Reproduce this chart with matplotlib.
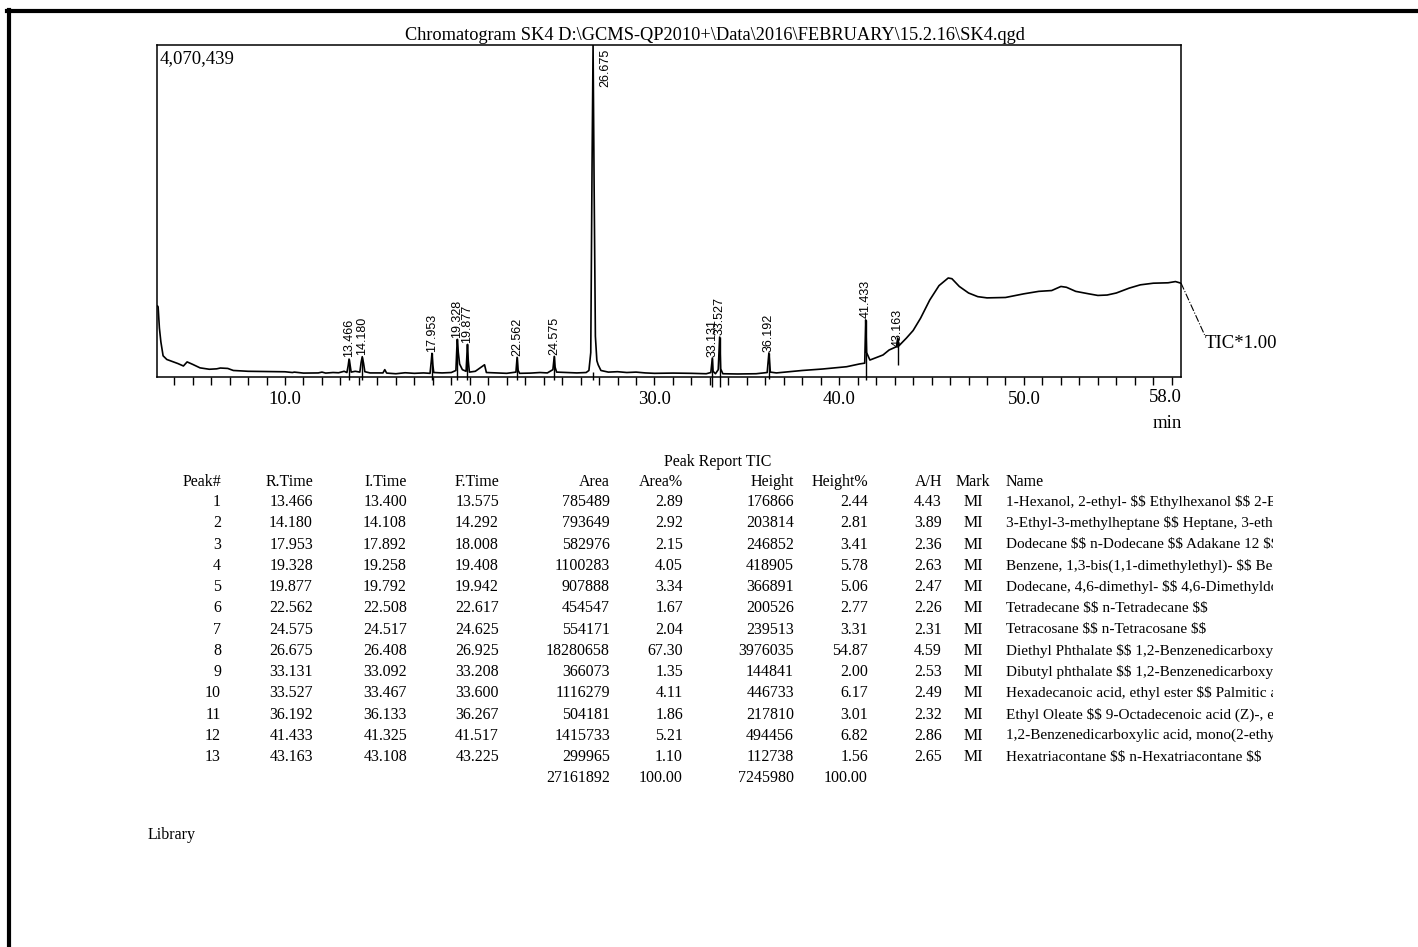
import matplotlib
matplotlib.use('Agg')
import matplotlib.pyplot as plt
from matplotlib.lines import Line2D
from matplotlib.transforms import Bbox, TransformedBbox

W, H = 1418, 947

# chromatogram trace (time in min, TIC counts)
tic_time = [3.10, 3.13, 3.20, 3.28, 3.40, 3.60, 3.90, 4.20, 4.50, 4.70, 4.85, 5.00, 5.40, 5.90,
            6.30, 6.50, 6.90, 7.20, 8.00, 9.00, 10.00, 10.40, 10.50, 11.00, 11.80, 12.00, 12.20,
            12.60, 12.90, 13.20, 13.35, 13.42, 13.466, 13.52, 13.58, 13.80, 14.05, 14.12, 14.18,
            14.25, 14.32, 14.60, 15.30, 15.40, 15.50, 16.00, 16.50, 17.00, 17.50, 17.85, 17.92,
            17.953, 18.00, 18.05, 18.50, 19.00, 19.25, 19.30, 19.328, 19.38, 19.45, 19.60, 19.80,
            19.85, 19.877, 19.92, 19.98, 20.30, 20.80, 20.90, 21.50, 22.00, 22.50, 22.562, 22.62,
            22.70, 23.30, 23.80, 24.20, 24.50, 24.575, 24.62, 24.70, 25.20, 25.80, 26.30, 26.45,
            26.55, 26.62, 26.675, 26.73, 26.80, 26.88, 26.95, 27.10, 27.50, 28.00, 28.50, 29.00,
            29.50, 30.00, 31.00, 32.00, 32.80, 33.05, 33.131, 33.17, 33.30, 33.45, 33.527, 33.58,
            33.70, 34.50, 35.50, 36.10, 36.192, 36.27, 36.60, 37.30, 38.00, 39.10, 40.40, 41.10,
            41.38, 41.433, 41.48, 41.66, 42.37, 42.70, 43.10, 43.163, 43.22, 43.64, 44.00, 44.40,
            44.90, 45.40, 45.90, 46.10, 46.50, 47.00, 47.50, 48.00, 49.00, 50.00, 50.80,
            51.50, 52.00, 52.30, 52.80, 53.50, 54.00, 54.50, 55.00, 55.70, 56.30, 57.00, 57.80,
            58.20, 58.50]
tic_int = [870000, 860000, 600000, 430000, 260000, 215000, 190000, 165000, 135000, 185000, 170000,
           155000, 112000, 95000, 100000, 110000, 105000, 80000, 70000, 67000, 64000, 55000, 60000,
           48000, 50000, 60000, 48000, 55000, 52000, 70000, 55000, 140000, 220000, 150000, 60000,
           70000, 60000, 180000, 249000, 170000, 65000, 50000, 50000, 90000, 48000, 40000, 52000,
           45000, 50000, 45000, 200000, 290000, 150000, 55000, 50000, 55000, 80000, 350000, 462000,
           300000, 160000, 90000, 70000, 300000, 400000, 200000, 60000, 70000, 150000, 55000, 50000,
           45000, 60000, 241000, 80000, 45000, 48000, 55000, 50000, 90000, 253000, 120000, 60000,
           55000, 50000, 55000, 80000, 300000, 2600000, 4070439, 2400000, 500000, 200000, 150000,
           80000, 60000, 65000, 55000, 60000, 50000, 45000, 48000, 45000, 40000, 55000, 233000,
           70000, 40000, 90000, 490000, 100000, 40000, 37000, 40000, 55000, 294000, 60000, 50000,
           65000, 80000, 98000, 126000, 160000, 170000, 700000, 300000, 208000, 270000, 331000,
           372000, 478000, 380000, 478000, 570000, 720000,
           944000, 1120000, 1214000, 1205000, 1110000, 1030000, 985000, 970000, 975000, 1020000,
           1050000, 1060000, 1110000, 1100000, 1050000, 1020000, 1000000, 1005000, 1030000,
           1090000, 1130000, 1150000, 1155000, 1170000, 1150000]

peak_rt = [13.466, 14.180, 17.953, 19.328, 19.877, 22.562, 24.575, 26.675,
           33.131, 33.527, 36.192, 41.433, 43.163]
# bottom of each peak label (counts)
label_y = [240000, 270000, 310000, 480000, 420000, 260000, 270000, 3560000,
           250000, 510000, 310000, 720000, 370000]
# peak marker line drawn through each peak
marker_lo = [-40000, -40000, -40000, -40000, -40000, -40000, -40000, -40000,
             -120000, -120000, -20000, -40000, 147000]
marker_hi = [220000, 249000, 290000, 462000, 400000, 241000, 253000, 60000,
             233000, 490000, 294000, 700000, 478000]

# peak report table
peak_no = ['1', '2', '3', '4', '5', '6', '7', '8', '9', '10', '11', '12', '13']
r_time = ['13.466', '14.180', '17.953', '19.328', '19.877', '22.562', '24.575', '26.675',
          '33.131', '33.527', '36.192', '41.433', '43.163']
i_time = ['13.400', '14.108', '17.892', '19.258', '19.792', '22.508', '24.517', '26.408',
          '33.092', '33.467', '36.133', '41.325', '43.108']
f_time = ['13.575', '14.292', '18.008', '19.408', '19.942', '22.617', '24.625', '26.925',
          '33.208', '33.600', '36.267', '41.517', '43.225']
area = ['785489', '793649', '582976', '1100283', '907888', '454547', '554171', '18280658',
        '366073', '1116279', '504181', '1415733', '299965']
area_pct = ['2.89', '2.92', '2.15', '4.05', '3.34', '1.67', '2.04', '67.30',
            '1.35', '4.11', '1.86', '5.21', '1.10']
height = ['176866', '203814', '246852', '418905', '366891', '200526', '239513', '3976035',
          '144841', '446733', '217810', '494456', '112738']
height_pct = ['2.44', '2.81', '3.41', '5.78', '5.06', '2.77', '3.31', '54.87',
              '2.00', '6.17', '3.01', '6.82', '1.56']
a_h = ['4.43', '3.89', '2.36', '2.63', '2.47', '2.26', '2.31', '4.59',
       '2.53', '2.49', '2.32', '2.86', '2.65']
mark = ['MI'] * 13
names = ['1-Hexanol, 2-ethyl- $$ Ethylhexanol $$ 2-Ethylhexanol',
         '3-Ethyl-3-methylheptane $$ Heptane, 3-ethyl-3-methyl-',
         'Dodecane $$ n-Dodecane $$ Adakane 12 $$',
         'Benzene, 1,3-bis(1,1-dimethylethyl)- $$ Benzene',
         'Dodecane, 4,6-dimethyl- $$ 4,6-Dimethyldodecane',
         'Tetradecane $$ n-Tetradecane $$',
         'Tetracosane $$ n-Tetracosane $$',
         'Diethyl Phthalate $$ 1,2-Benzenedicarboxylic acid',
         'Dibutyl phthalate $$ 1,2-Benzenedicarboxylic acid',
         'Hexadecanoic acid, ethyl ester $$ Palmitic acid',
         'Ethyl Oleate $$ 9-Octadecenoic acid (Z)-, ethyl ester',
         '1,2-Benzenedicarboxylic acid, mono(2-ethylhexyl) ester',
         'Hexatriacontane $$ n-Hexatriacontane $$']
totals = {'area': '27161892', 'area_pct': '100.00', 'height': '7245980', 'height_pct': '100.00'}

serif = 'Liberation Serif'
sans = 'Liberation Sans'

fig = plt.figure(figsize=(W / 100, H / 100), dpi=100)


def fx(x):
    return x / W


def fy(y):
    return 1 - y / H


# page border (top and left)
fig.add_artist(Line2D([fx(7), 1], [fy(11.5), fy(11.5)], color='black', lw=3, transform=fig.transFigure))
fig.add_artist(Line2D([fx(9), fx(9)], [fy(10), 0], color='black', lw=3, transform=fig.transFigure))

ax = fig.add_axes([fx(157), fy(377), (1181 - 157) / W, (377 - 45) / H])
ax.plot(tic_time, tic_int, color='black', lw=1.2)
ax.vlines(peak_rt, marker_lo, marker_hi, color='black', lw=1, clip_on=False)
ax.set_xlim(3.07, 58.5)
ax.set_ylim(0, 4070439)
ax.set_yticks([])
ax.set_xticks([10, 20, 30, 40, 50])
ax.set_xticklabels(['10.0', '20.0', '30.0', '40.0', '50.0'], fontfamily=serif, fontsize=13.5)
ax.set_xticks(range(4, 59), minor=True)
ax.tick_params(axis='x', which='both', direction='out', length=6, width=1, pad=4)
for s in ax.spines.values():
    s.set_linewidth(1.1)

for rt, ly in zip(peak_rt, label_y):
    xx = rt if rt != 26.675 else 27.32
    ax.text(xx, ly, f'{rt:.3f}', rotation=90, ha='center', va='bottom',
            fontfamily=sans, fontsize=9, clip_on=True)

ax.text(0.003, 0.985, '4,070,439', transform=ax.transAxes, ha='left', va='top',
        fontfamily=serif, fontsize=13.5)
ax.plot([1.0, 1.023], [0.283, 0.127], transform=ax.transAxes, color='black', lw=0.8,
        ls='-.', clip_on=False)
fig.text(fx(1205), fy(343), 'TIC*1.00', ha='left', va='center', fontfamily=serif, fontsize=13.5)
fig.text(fx(1182), fy(398), '58.0', ha='right', va='center', fontfamily=serif, fontsize=13.5)
fig.text(fx(1182), fy(423), 'min', ha='right', va='center', fontfamily=serif, fontsize=13.5)

fig.text(fx(715), fy(35), 'Chromatogram SK4 D:\\GCMS-QP2010+\\Data\\2016\\FEBRUARY\\15.2.16\\SK4.qgd',
         ha='center', va='center', fontfamily=serif, fontsize=13.2)

# peak report table
fs = 11.5
fig.text(fx(718), fy(462), 'Peak Report TIC', ha='center', va='center', fontfamily=serif, fontsize=fs)
cols = [('Peak#', peak_no, 221, 'right'), ('R.Time', r_time, 313, 'right'),
        ('I.Time', i_time, 407, 'right'), ('F.Time', f_time, 499, 'right'),
        ('Area', area, 610, 'right'), ('Area%', area_pct, 683, 'right'),
        ('Height', height, 794, 'right'), ('Height%', height_pct, 868, 'right'),
        ('A/H', a_h, 942, 'right'), ('Mark', mark, 973, 'center'), ('Name', names, 1006, 'left')]
clip = TransformedBbox(Bbox([[0, 0], [fx(1273), 1]]), fig.transFigure)
for head, vals, xp, ha in cols:
    fig.text(fx(xp), fy(482), head, ha=ha, va='center', fontfamily=serif, fontsize=fs)
    for i, v in enumerate(vals):
        size = 11 if head == 'Name' else fs
        t = fig.text(fx(xp), fy(502 + i * 21.25), v, ha=ha, va='center', fontfamily=serif,
                     fontsize=size, parse_math=False)
        if head == 'Name':
            t.set_clip_box(clip)
            t.set_clip_on(True)
row_y = fy(502 + 13 * 21.25)
fig.text(fx(610), row_y, totals['area'], ha='right', va='center', fontfamily=serif, fontsize=fs)
fig.text(fx(683), row_y, totals['area_pct'], ha='right', va='center', fontfamily=serif, fontsize=fs)
fig.text(fx(794), row_y, totals['height'], ha='right', va='center', fontfamily=serif, fontsize=fs)
fig.text(fx(868), row_y, totals['height_pct'], ha='right', va='center', fontfamily=serif, fontsize=fs)

fig.text(fx(148), fy(835), 'Library', ha='left', va='center', fontfamily=serif, fontsize=fs)

fig.savefig('out.png', dpi=100)
